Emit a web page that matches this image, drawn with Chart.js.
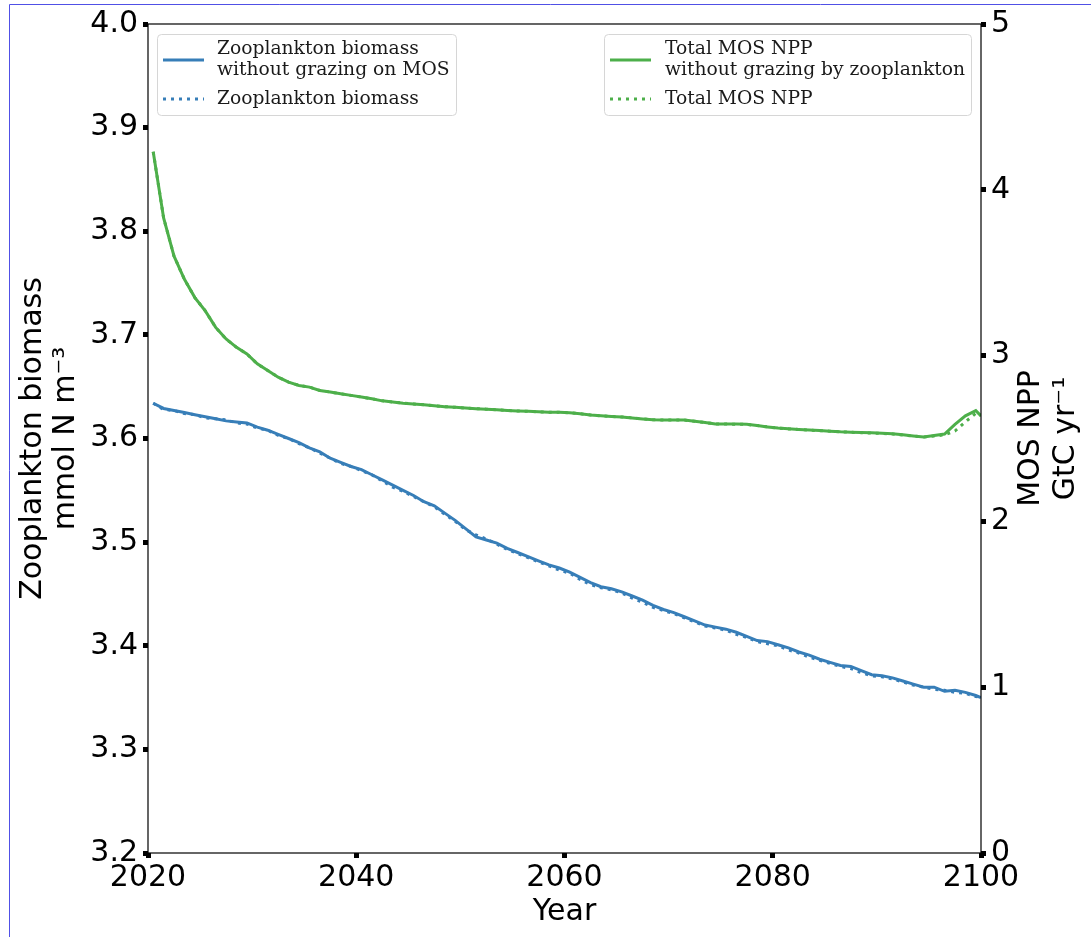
<!DOCTYPE html>
<html lang="en">
  <head>
    <meta charset="UTF-8" />
    <title>Zooplankton biomass and MOS NPP</title>
    <script src="https://cdn.jsdelivr.net/npm/chart.js"></script>
    <style>
      body { margin: 0; background: #fff; }
      canvas { display: block; }
    </style>
  </head>
  <body>
    <canvas id="chart" width="1091" height="937"></canvas>
    <script>
      // years: mid-year samples, plus the final 2100 point
      const years = [];
      for (let y = 2020.5; y < 2100; y += 1) years.push(y);
      years.push(2100);

      // Zooplankton biomass (mmol N m-3), left axis
      const zooNoGrazing = [
        3.634, 3.629, 3.627, 3.625, 3.623, 3.621, 3.619, 3.617, 3.616, 3.615,
        3.611, 3.608, 3.604, 3.600, 3.596, 3.591, 3.587, 3.581, 3.577, 3.573,
        3.570, 3.565, 3.560, 3.555, 3.550, 3.545, 3.539, 3.535, 3.528, 3.521,
        3.513, 3.505, 3.502, 3.499, 3.494, 3.490, 3.486, 3.482, 3.478, 3.475,
        3.471, 3.466, 3.461, 3.457, 3.455, 3.452, 3.448, 3.444, 3.439, 3.435,
        3.432, 3.428, 3.424, 3.420, 3.418, 3.416, 3.413, 3.409, 3.405, 3.404,
        3.401, 3.398, 3.394, 3.391, 3.387, 3.384, 3.381, 3.380, 3.376, 3.372,
        3.371, 3.369, 3.366, 3.363, 3.360, 3.360, 3.356, 3.357, 3.355, 3.352,
        3.350
      ];
      const zooBiomass = [
        3.634, 3.628, 3.627, 3.624, 3.623, 3.620, 3.619, 3.618, 3.615, 3.614,
        3.610, 3.608, 3.603, 3.600, 3.595, 3.591, 3.586, 3.581, 3.576, 3.573,
        3.569, 3.565, 3.559, 3.553, 3.549, 3.544, 3.539, 3.534, 3.527, 3.520,
        3.512, 3.507, 3.503, 3.498, 3.493, 3.489, 3.485, 3.481, 3.477, 3.473,
        3.470, 3.464, 3.459, 3.456, 3.454, 3.451, 3.446, 3.442, 3.437, 3.434,
        3.431, 3.427, 3.423, 3.419, 3.417, 3.415, 3.411, 3.408, 3.404, 3.402,
        3.400, 3.396, 3.393, 3.389, 3.386, 3.383, 3.380, 3.378, 3.374, 3.371,
        3.370, 3.368, 3.365, 3.362, 3.360, 3.358, 3.357, 3.355, 3.354, 3.351,
        3.350
      ];

      // Total MOS NPP (GtC yr-1), right axis
      const nppNoGrazing = [
        4.23, 3.83, 3.60, 3.46, 3.35, 3.27, 3.17, 3.10, 3.05, 3.01,
        2.95, 2.91, 2.87, 2.84, 2.82, 2.81, 2.79, 2.78, 2.77, 2.76,
        2.75, 2.74, 2.727, 2.72, 2.713, 2.708, 2.703, 2.697, 2.692, 2.688,
        2.684, 2.680, 2.677, 2.673, 2.669, 2.666, 2.664, 2.661, 2.659, 2.658,
        2.655, 2.649, 2.642, 2.637, 2.633, 2.630, 2.624, 2.618, 2.613, 2.612,
        2.612, 2.612, 2.604, 2.596, 2.588, 2.587, 2.587, 2.586, 2.578, 2.570,
        2.563, 2.559, 2.555, 2.551, 2.548, 2.544, 2.540, 2.538, 2.536, 2.534,
        2.532, 2.528, 2.522, 2.515, 2.509, 2.518, 2.527, 2.585, 2.637, 2.668,
        2.636
      ];
      const nppTotal = [
        4.23, 3.83, 3.60, 3.46, 3.35, 3.27, 3.17, 3.10, 3.05, 3.01,
        2.95, 2.91, 2.87, 2.84, 2.82, 2.81, 2.79, 2.78, 2.77, 2.76,
        2.75, 2.74, 2.727, 2.72, 2.713, 2.708, 2.703, 2.697, 2.692, 2.688,
        2.684, 2.680, 2.677, 2.673, 2.669, 2.666, 2.664, 2.661, 2.659, 2.658,
        2.655, 2.649, 2.642, 2.637, 2.633, 2.630, 2.624, 2.618, 2.613, 2.612,
        2.612, 2.611, 2.604, 2.596, 2.588, 2.587, 2.586, 2.585, 2.578, 2.570,
        2.563, 2.558, 2.555, 2.550, 2.547, 2.544, 2.540, 2.538, 2.535, 2.533,
        2.531, 2.527, 2.521, 2.514, 2.509, 2.515, 2.522, 2.545, 2.600, 2.652,
        2.640
      ];

      const leftTicks = [3.2, 3.3, 3.4, 3.5, 3.6, 3.7, 3.8, 3.9, 4.0];
      const rightTicks = [0, 1, 2, 3, 4, 5];
      const xTicks = [2020, 2040, 2060, 2080, 2100];

      const blue = "#377eb8";
      const green = "#4daf4a";
      const sans = "'DejaVu Sans', sans-serif";
      const serif = "'DejaVu Serif', serif";

      const pts = (vals) => vals.map((v, i) => ({ x: years[i], y: v }));

      // frame, titles and the two legend boxes
      const extras = {
        id: "extras",
        beforeDraw(chart) {
          const c = chart.ctx;
          c.save();
          c.strokeStyle = "rgb(80,80,230)";
          c.lineWidth = 1;
          c.beginPath();
          c.moveTo(9.5, 937);
          c.lineTo(9.5, 4.5);
          c.lineTo(1091, 4.5);
          c.stroke();
          c.restore();
        },
        afterDatasetsDraw(chart) {
          const c = chart.ctx;
          const a = chart.chartArea;
          c.save();
          c.strokeStyle = "#000";
          c.lineWidth = 1.2;
          c.strokeRect(a.left, a.top, a.right - a.left, a.bottom - a.top);

          // axis titles
          c.fillStyle = "#000";
          c.font = "30px " + sans;
          c.textAlign = "center";
          c.textBaseline = "middle";
          c.fillText("Year", (a.left + a.right) / 2, 912);
          const mid = (a.top + a.bottom) / 2;
          const vtext = (x, s) => {
            c.save();
            c.translate(x, mid);
            c.rotate(-Math.PI / 2);
            c.fillText(s, 0, 0);
            c.restore();
          };
          vtext(33, "Zooplankton biomass");
          vtext(66, "mmol N m\u207b\u00b3");
          vtext(1031, "MOS NPP");
          vtext(1066, "GtC yr\u207b\u00b9");

          // legends
          const ds = chart.data.datasets;
          const box = (x, y, w, h, items, sx, tx) => {
            c.save();
            c.fillStyle = "rgba(255,255,255,0.8)";
            c.strokeStyle = "#d6d6d6";
            c.lineWidth = 1;
            c.beginPath();
            c.roundRect(x + 0.5, y + 0.5, w, h, 4);
            c.fill();
            c.stroke();
            c.font = "18.7px " + serif;
            c.fillStyle = "#1a1a1a";
            c.textAlign = "left";
            c.textBaseline = "middle";
            items.forEach((it) => {
              const d = ds[it.i];
              c.strokeStyle = d.borderColor;
              c.lineWidth = 3;
              c.setLineDash(d.borderDash || []);
              c.beginPath();
              c.moveTo(sx, it.y);
              c.lineTo(sx + 41, it.y);
              c.stroke();
              c.setLineDash([]);
              const lines = d.label.split("\n");
              lines.forEach((ln, k) => {
                c.fillText(ln, tx, it.y - (lines.length - 1) * 10.5 + k * 21);
              });
            });
            c.restore();
          };
          box(157, 34, 299, 81, [{ i: 0, y: 60 }, { i: 1, y: 99 }], 163, 217);
          box(604, 34, 367, 81, [{ i: 2, y: 60 }, { i: 3, y: 99 }], 610, 665);
          c.restore();
        },
      };

      new Chart(document.getElementById("chart"), {
        type: "line",
        data: {
          datasets: [
            {
              label: "Zooplankton biomass\nwithout grazing on MOS",
              data: pts(zooNoGrazing),
              borderColor: blue,
              yAxisID: "y",
            },
            {
              label: "Zooplankton biomass",
              data: pts(zooBiomass),
              borderColor: blue,
              borderDash: [3, 5],
              yAxisID: "y",
            },
            {
              label: "Total MOS NPP\nwithout grazing by zooplankton",
              data: pts(nppNoGrazing),
              borderColor: green,
              yAxisID: "y1",
            },
            {
              label: "Total MOS NPP",
              data: pts(nppTotal),
              borderColor: green,
              borderDash: [3, 5],
              yAxisID: "y1",
            },
          ],
        },
        options: {
          responsive: false,
          animation: false,
          layout: { padding: { top: 24, left: 0, right: 0, bottom: 0 } },
          elements: {
            point: { radius: 0 },
            line: { borderWidth: 3, tension: 0, borderCapStyle: "butt" },
          },
          plugins: { legend: { display: false }, tooltip: { enabled: false } },
          scales: {
            x: {
              type: "linear",
              min: 2020,
              max: 2100,
              afterFit: (s) => { s.height = 84; },
              afterBuildTicks: (s) => { s.ticks = xTicks.map((v) => ({ value: v })); },
              border: { display: false },
              grid: { drawOnChartArea: false, tickLength: 5, tickWidth: 5, tickColor: "#000" },
              ticks: { color: "#000", font: { family: sans, size: 30 }, padding: 2, maxRotation: 0, autoSkip: false, callback: (v) => String(v) },
            },
            y: {
              position: "left",
              min: 3.2,
              max: 4.0,
              afterFit: (s) => { s.width = 148; },
              afterBuildTicks: (s) => { s.ticks = leftTicks.map((v) => ({ value: v })); },
              border: { display: false },
              grid: { drawOnChartArea: false, tickLength: 5, tickWidth: 5, tickColor: "#000" },
              ticks: { color: "#000", font: { family: sans, size: 30 }, padding: 5, autoSkip: false, callback: (v) => v.toFixed(1) },
            },
            y1: {
              position: "right",
              min: 0,
              max: 5,
              afterFit: (s) => { s.width = 110; },
              afterBuildTicks: (s) => { s.ticks = rightTicks.map((v) => ({ value: v })); },
              border: { display: false },
              grid: { drawOnChartArea: false, tickLength: 5, tickWidth: 5, tickColor: "#000" },
              ticks: { color: "#000", font: { family: sans, size: 30 }, padding: 5, autoSkip: false, callback: (v) => String(v) },
            },
          },
        },
        plugins: [extras],
      });
    </script>
  </body>
</html>
